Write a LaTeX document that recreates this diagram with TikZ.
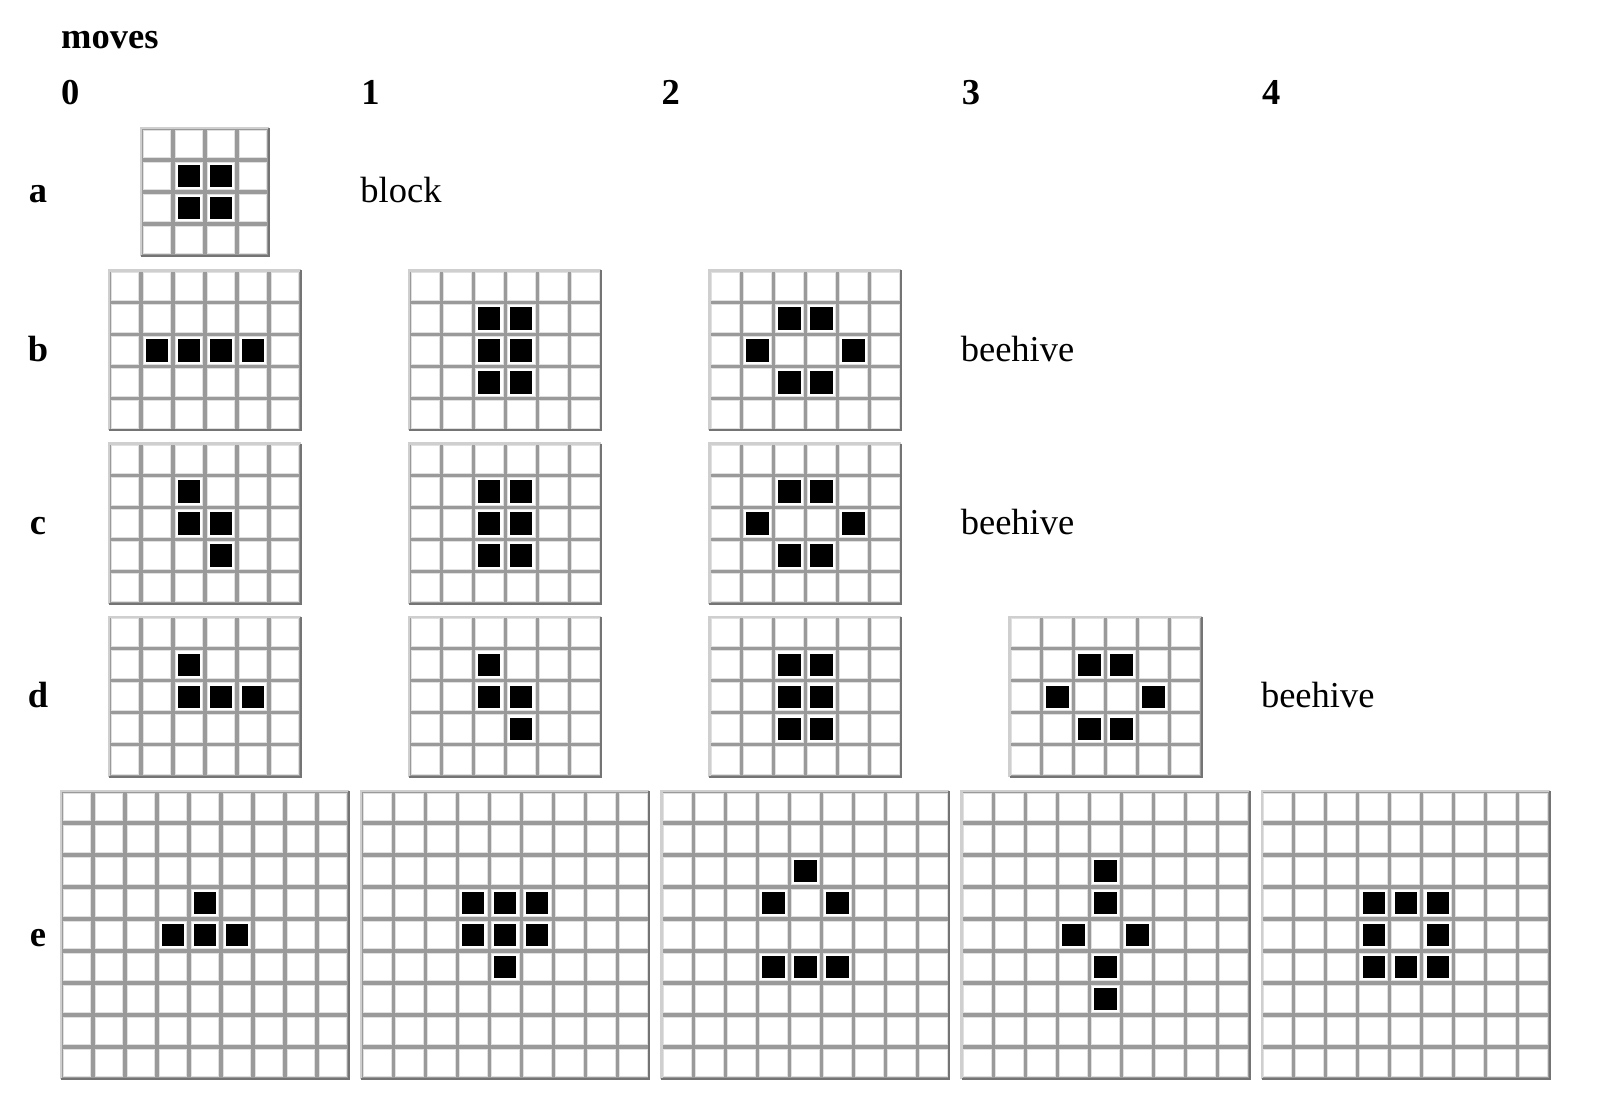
\documentclass[tikz,border=0pt]{standalone}
\usepackage{fontspec}
\setmainfont{Liberation Serif}
\usetikzlibrary{positioning}
\definecolor{gridgray}{HTML}{9A9A9A}
\definecolor{gridlight}{HTML}{CFCFCF}
\definecolor{griddark}{HTML}{747474}
\definecolor{cellrim}{HTML}{E0E0E0}
\newcommand{\cellpitch}{32.0}
\tikzset{
  lbl/.style = {font=\fontsize{36.5}{40}\selectfont\bfseries, inner sep=0pt},
  rowlbl/.style = {lbl, anchor=base},
  collbl/.style = {lbl, anchor=base west},
  txt/.style = {font=\fontsize{36.5}{40}\selectfont, inner sep=0pt,
    anchor=base west},
  gridbg/.style = {fill=gridgray},
  deadcell/.style = {fill=white, draw=cellrim, line width=1pt},
  livecell/.style = {fill=black}
}
% \lifegrid{centre x}{centre y}{columns}{rows}{live cells col/row}
\newcommand{\lifegrid}[5]{%
  \begin{scope}[shift={({#1-#3*\cellpitch/2},{#2-#4*\cellpitch/2})}]
    \fill[gridbg] (0,0) rectangle ({#3*\cellpitch},{#4*\cellpitch});
    \foreach \i in {1,...,#3}
      \foreach \j in {1,...,#4}
        \path[deadcell] ({(\i-1)*\cellpitch+2.1},{(\j-1)*\cellpitch+2.1})
          rectangle ({\i*\cellpitch-2.1},{\j*\cellpitch-2.1});
    \foreach \c/\r in {#5}
      \fill[livecell] ({(\c+0.5)*\cellpitch-11.2},{(\r+0.5)*\cellpitch-11.2})
        rectangle ++(22.4,22.4);
    \draw[gridlight, line width=2.5pt] (0,{#4*\cellpitch}) -- (0,0) -- ({#3*\cellpitch},0);
    \draw[griddark, line width=2pt] ({#3*\cellpitch},0) -- ({#3*\cellpitch},{#4*\cellpitch})
      -- (0,{#4*\cellpitch});
  \end{scope}}

\begin{document}
\begin{tikzpicture}[x=1pt,y=-1pt]
\useasboundingbox[fill=white] (0,0) rectangle (1608,1110);
% headers
\node[collbl] (moves) at (61,49) {moves};
\foreach \k in {0,...,4}
  \node[collbl] (col\k) at ({61+300.2*\k},104.5) {\k};
\foreach \r/\y in {a/192,b/350.3,c/523.5,d/696.8,e/935}
  \node[rowlbl] (row\r) at (38,\y+11) {\r};
% row a
\lifegrid{205}{192}{4}{4}{1/1,2/1,1/2,2/2}
\node[txt] (block) at (360.2,203) {block};
% row b
\lifegrid{205}{350.3}{6}{5}{1/2,2/2,3/2,4/2}
\lifegrid{505.2}{350.3}{6}{5}{2/1,3/1,2/2,3/2,2/3,3/3}
\lifegrid{805.4}{350.3}{6}{5}{2/1,3/1,1/2,4/2,2/3,3/3}
\node[txt] (hiveb) at (960.6,361.3) {beehive};
% row c
\lifegrid{205}{523.5}{6}{5}{2/1,2/2,3/2,3/3}
\lifegrid{505.2}{523.5}{6}{5}{2/1,3/1,2/2,3/2,2/3,3/3}
\lifegrid{805.4}{523.5}{6}{5}{2/1,3/1,1/2,4/2,2/3,3/3}
\node[txt] (hivec) at (960.6,534.5) {beehive};
% row d
\lifegrid{205}{696.8}{6}{5}{2/1,2/2,3/2,4/2}
\lifegrid{505.2}{696.8}{6}{5}{2/1,2/2,3/2,3/3}
\lifegrid{805.4}{696.8}{6}{5}{2/1,3/1,2/2,3/2,2/3,3/3}
\lifegrid{1105.6}{696.8}{6}{5}{2/1,3/1,1/2,4/2,2/3,3/3}
\node[txt] (hived) at (1260.8,707.8) {beehive};
% row e
\lifegrid{205}{935}{9}{9}{4/3,3/4,4/4,5/4}
\lifegrid{505.2}{935}{9}{9}{3/3,4/3,5/3,3/4,4/4,5/4,4/5}
\lifegrid{805.4}{935}{9}{9}{4/2,3/3,5/3,3/5,4/5,5/5}
\lifegrid{1105.6}{935}{9}{9}{4/2,4/3,3/4,5/4,4/5,4/6}
\lifegrid{1405.8}{935}{9}{9}{3/3,4/3,5/3,3/4,5/4,3/5,4/5,5/5}
\end{tikzpicture}
\end{document}
